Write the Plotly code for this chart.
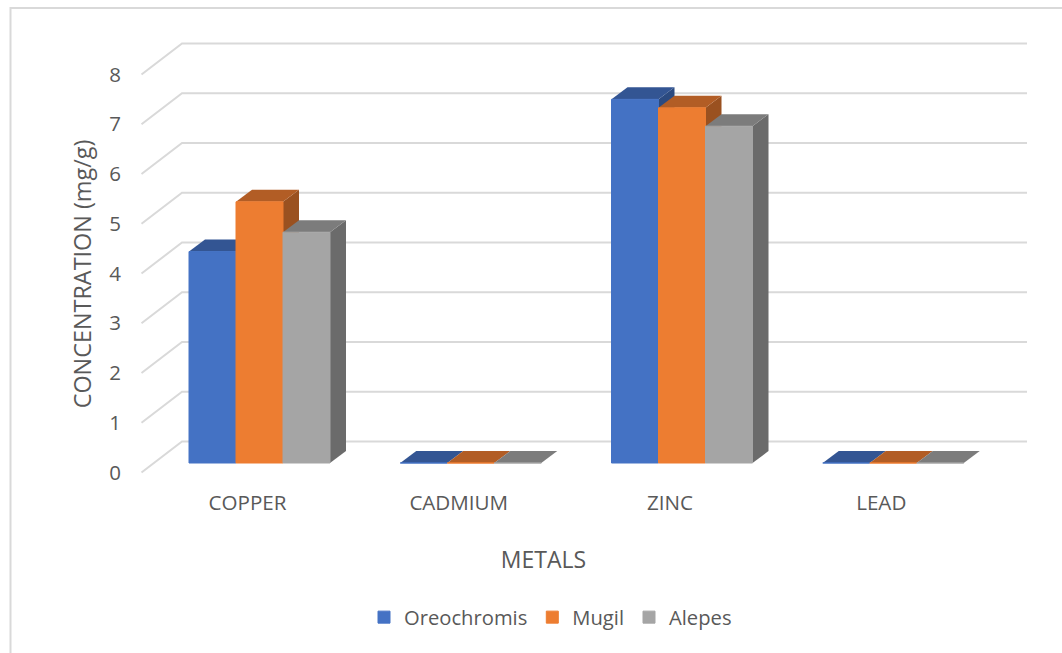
import plotly.graph_objects as go

# ---- data ----
categories = ["COPPER", "CADMIUM", "ZINC", "LEAD"]
oreochromis = [4.25, 0, 7.31, 0]
mugil = [5.25, 0, 7.14, 0]
alepes = [4.64, 0, 6.77, 0]
series_names = ["Oreochromis", "Mugil", "Alepes"]
y_ticks = [0, 1, 2, 3, 4, 5, 6, 7, 8]

# ---- styling / geometry (pixels) ----
W, H = 1062, 653
L, R, T, B = 59, 1028, 32, 516      # plot box; centred on the axis titles
PX_PER_CAT = 211.25
PX_PER_UNIT = 49.75
X0_PX = 259.5                        # px of first category centre
Y0_PX = 463.0                        # px of value 0 on the bar front plane
BAR_PX = 47.0
DEPTH_X = 16.0 / PX_PER_CAT
DEPTH_Y = 12.0 / PX_PER_UNIT
WALL_BACK_X = (182 - X0_PX) / PX_PER_CAT
WALL_FRONT_X = (141.5 - X0_PX) / PX_PER_CAT
WALL_END_X = (1027 - X0_PX) / PX_PER_CAT
WALL_BACK_DY = (Y0_PX - 441.5) / PX_PER_UNIT
WALL_FRONT_DY = (Y0_PX - 472.5) / PX_PER_UNIT
LABEL_SHIFT_X = -12.0 / PX_PER_CAT

front_colors = ["#4472C4", "#ED7D31", "#A5A5A5"]
top_colors = ["#335593", "#B25D25", "#7C7C7C"]
side_colors = ["#2B4A80", "#9A5120", "#6B6B6B"]
TEXT = "#595959"
GRID = "#D9D9D9"
FONT = "Open Sans"

x_range = [(L - X0_PX) / PX_PER_CAT, (R - X0_PX) / PX_PER_CAT]
y_range = [(Y0_PX - B) / PX_PER_UNIT, (Y0_PX - T) / PX_PER_UNIT]
bar_w = BAR_PX / PX_PER_CAT
positions = list(range(len(categories)))
all_series = [oreochromis, mugil, alepes]

fig = go.Figure()

# perspective gridlines (walls)
for v in y_ticks:
    fig.add_trace(go.Scatter(
        x=[WALL_FRONT_X, WALL_BACK_X, WALL_END_X],
        y=[v + WALL_FRONT_DY, v + WALL_BACK_DY, v + WALL_BACK_DY],
        mode="lines", line=dict(color=GRID, width=2),
        showlegend=False, hoverinfo="skip", cliponaxis=False))

# top and side faces of each bar
for s, vals in enumerate(all_series):
    for c, v in zip(positions, vals):
        x_l = c + (s - 1.5) * bar_w
        x_r = x_l + bar_w
        fig.add_trace(go.Scatter(
            x=[x_r, x_r + DEPTH_X, x_r + DEPTH_X, x_r, x_r],
            y=[0, DEPTH_Y, v + DEPTH_Y, v, 0],
            mode="lines", fill="toself", fillcolor=side_colors[s],
            line=dict(width=0), showlegend=False, hoverinfo="skip"))
        fig.add_trace(go.Scatter(
            x=[x_l, x_r, x_r + DEPTH_X, x_l + DEPTH_X, x_l],
            y=[v, v, v + DEPTH_Y, v + DEPTH_Y, v],
            mode="lines", fill="toself", fillcolor=top_colors[s],
            line=dict(width=0), showlegend=False, hoverinfo="skip"))

# front faces
for s, vals in enumerate(all_series):
    fig.add_trace(go.Bar(
        x=positions, y=vals, name=series_names[s], xaxis="x2", yaxis="y2",
        marker=dict(color=front_colors[s], line=dict(color=front_colors[s], width=1)),
        width=bar_w, offset=(s - 1.5) * bar_w))

fig.update_layout(
    width=W, height=H, autosize=False,
    margin=dict(l=L, r=W - R, t=T, b=H - B, pad=0, autoexpand=False),
    paper_bgcolor="white", plot_bgcolor="rgba(0,0,0,0)",
    font=dict(family=FONT, color=TEXT, size=18),
    showlegend=True,
    legend=dict(orientation="h", x=(364 - L) / (R - L), xanchor="left",
                y=(B - 617.5) / (B - T), yanchor="middle",
                font=dict(size=20.2, family=FONT, color=TEXT),
                traceorder="normal", bgcolor="rgba(0,0,0,0)"),
    xaxis=dict(range=x_range, anchor="free", position=0.0,
               tickmode="array",
               tickvals=[p + LABEL_SHIFT_X for p in positions], ticktext=categories,
               showgrid=False, zeroline=False, showline=False, ticks="",
               ticklabelstandoff=-28, tickfont=dict(size=20.6, color=TEXT, family=FONT),
               title=dict(text="METALS", font=dict(size=23, color=TEXT, family=FONT), standoff=37)),
    yaxis=dict(range=y_range, anchor="free", position=(132 - L) / (R - L),
               tickmode="array",
               tickvals=[v + WALL_FRONT_DY for v in y_ticks], ticktext=[str(v) for v in y_ticks],
               showgrid=False, zeroline=False, showline=False, ticks="",
               ticklabelstandoff=11, tickfont=dict(size=20.5, color=TEXT, family=FONT),
               title=dict(text="CONCENTRATION (mg/g)", font=dict(size=23.4, color=TEXT, family=FONT), standoff=10)),
    xaxis2=dict(range=x_range, overlaying="x", visible=False),
    yaxis2=dict(range=y_range, overlaying="y", visible=False),
    shapes=[dict(type="path", xref="paper", yref="paper", layer="below",
                 path=f"M {(10.5 - L) / (R - L)} {(B - H) / (B - T)} "
                      f"L {(10.5 - L) / (R - L)} {(B - 8) / (B - T)} "
                      f"L {(W - L) / (R - L)} {(B - 8) / (B - T)}",
                 line=dict(color=GRID, width=2))],
)

fig.write_html("out.html", config=dict(displayModeBar=False),
               post_script="document.body.style.margin='0';document.documentElement.style.overflow='hidden';")
